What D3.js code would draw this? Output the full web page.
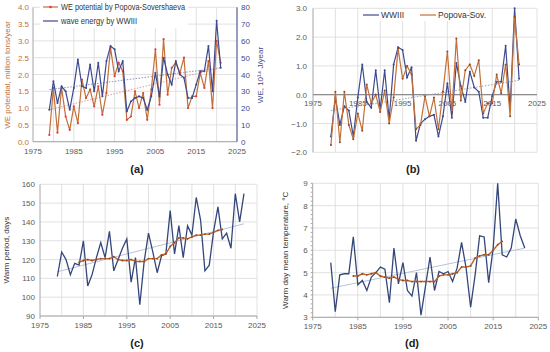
<!DOCTYPE html>
<html>
<head>
<meta charset="utf-8">
<script src="https://cdn.jsdelivr.net/npm/d3@7"></script>
<style>
  body { margin: 0; background: #fff; }
  svg text { font-family: "Liberation Sans", "Open Sans", sans-serif; }
</style>
</head>
<body>
<svg id="chart" width="550" height="352"></svg>
<script>
// ---- data ----
var yearsA = d3.range(1979, 2022);
var popovaA = [0.2, 1.6, 0.27, 1.6, 0.75, 0.35, 1.05, 0.55, 1.85, 1.3, 1.55, 1.05, 1.65, 0.8, 1.45, 2.8, 1.95, 2.35, 2.1, 0.65,
  0.75, 1.5, 1.0, 1.45, 0.65, 1.55, 2.75, 1.1, 3.05, 1.4, 2.2, 2.35, 2.05, 2.5, 1.0, 1.35, 1.35, 2.05, 1.6, 2.4, 1.0, 3.0, 2.35];
var wwiiiA = [19, 36, 23, 33, 30, 19, 32, 49, 33, 32, 46, 30, 47, 27, 48, 57, 55, 42, 48, 18,
  24, 26, 27, 26, 19, 27, 41, 27, 50, 40, 34, 48, 40, 38, 26, 26, 34, 42, 42, 57, 30, 72, 44];
var trendPopovaA = [0.95, 2.2];   // at 1979 and 2021
var trendWwiiiA = [31, 44];

var wwiiiB = [-1.45, -0.1, -1.05, -0.4, -0.55, -1.45, -0.1, 1.05, -0.25, -0.45, 0.85, -0.5, 0.85, -0.85, 1.05, 1.65, 1.55, 0.6, 0.95, -1.6,
  -1.0, -0.85, -0.75, -0.7, -1.45, -0.75, 0.4, -0.8, 1.1, 0.3, -0.25, 0.8, 0.25, 0.1, -0.8, -0.8, -0.05, 0.45, 0.45, 1.7, -0.5, 3.0, 0.55];
var popovaB = [-1.75, 0.1, -1.65, 0.1, -1.05, -1.55, -0.65, -1.25, 0.35, -0.3, 0.0, -0.6, 0.15, -1.0, -0.1, 1.6, 0.55, 1.0, 0.7, -1.2,
  -1.05, -0.05, -0.75, -0.1, -1.2, 0.1, 1.5, -0.6, 1.95, -0.2, 0.85, 1.05, 0.65, 1.2, -0.65, -0.3, -0.3, 0.7, 0.05, 1.05, -0.75, 2.7, 1.05];
var trendB = [-0.55, 0.5];

var yearsCD = d3.range(1979, 2023);
var warmDays = [111, 124, 120, 112, 118, 117, 130, 106, 112, 121, 129, 121, 135, 114, 120, 126, 131, 108, 121, 96,
  119, 134, 124, 113, 122, 123, 146, 123, 138, 121, 138, 133, 153, 141, 114, 117, 135, 148, 131, 134, 126, 155, 140, 155];
var yearsMA = d3.range(1984, 2018);
var warmDaysMA = [118.5, 119.5, 120, 119.5, 120, 120.5, 120.5, 120.5, 121.5, 120, 119.5, 119.5, 120, 119, 119, 119, 120.5, 120.5,
  120.5, 122.5, 123, 127, 129, 131.5, 131.5, 131, 132, 133, 133, 133.5, 133.5, 134.5, 135.5, 136];
var trendC = [113.5, 139];  // at 1979 and 2022

var warmTemp = [5.45, 3.25, 4.9, 4.95, 4.95, 6.6, 4.45, 4.65, 4.2, 4.8, 5.0, 5.25, 5.15, 3.65, 6.1, 4.5, 5.45, 4.2, 3.95, 5.0,
  3.1, 4.4, 5.7, 4.2, 5.05, 4.95, 5.05, 4.6, 5.2, 6.35, 5.2, 3.45, 4.9, 6.65, 6.6, 4.55, 6.1, 9.0, 5.8, 5.7, 6.1, 7.4, 6.65, 6.1];
var warmTempMA = [4.85, 4.85, 4.95, 4.9, 4.95, 5.0, 4.85, 4.8, 4.75, 4.8, 4.7, 4.65, 4.65, 4.6, 4.6, 4.6, 4.6, 4.6,
  4.6, 4.85, 4.9, 4.9, 4.95, 5.0, 5.25, 5.25, 5.3, 5.65, 5.75, 5.8, 5.8, 6.0, 6.25, 6.4];
var trendD = [4.3, 6.1];

var xTicks = [1975, 1985, 1995, 2005, 2015, 2025];

// ---- colours ----
var blue = "#3d4a8f", orange = "#c2703a", red = "#e8383d", grid = "#d9d9d9", axisText = "#595959";
var navy = "#34477a", maColor = "#c0622b", trendColor = "#b7c3d9";
var fs = 8;

var svg = d3.select("#chart");

function makeLine(x, y, xs) {
  return d3.line().x(function (d, i) { return x(xs[i]); }).y(function (d) { return y(d); });
}

function gridLines(g, x, y, xmin, xmax, ymin, ymax, xstep, ystep) {
  d3.range(ymin, ymax + ystep / 2, ystep).forEach(function (v) {
    g.append("line").attr("x1", x(xmin)).attr("x2", x(xmax)).attr("y1", y(v)).attr("y2", y(v))
      .attr("stroke", grid).attr("stroke-width", 0.8);
  });
  d3.range(xmin + xstep, xmax + 1, xstep).forEach(function (v) {
    g.append("line").attr("x1", x(v)).attr("x2", x(v)).attr("y1", y(ymin)).attr("y2", y(ymax))
      .attr("stroke", grid).attr("stroke-width", 0.8);
  });
}

function xLabels(g, x, yPos) {
  xTicks.forEach(function (t) {
    g.append("text").attr("x", x(t)).attr("y", yPos).attr("text-anchor", "middle")
      .attr("font-size", fs).attr("fill", axisText).text(t);
  });
}

function yLabels(g, y, vals, xPos, fmt, color, anchor) {
  vals.forEach(function (v) {
    g.append("text").attr("x", xPos).attr("y", y(v) + 3).attr("text-anchor", anchor || "end")
      .attr("font-size", fs).attr("fill", color || axisText).text(fmt(v));
  });
}

function caption(x, y, txt) {
  svg.append("text").attr("x", x).attr("y", y).attr("text-anchor", "middle")
    .attr("font-family", "Liberation Serif, serif").attr("font-weight", "bold")
    .attr("font-size", 11).attr("fill", "#222").text(txt);
}

// ================= panel (a) =================
(function () {
  var g = svg.append("g");
  var x = d3.scaleLinear().domain([1975, 2025]).range([33, 237]);
  var yL = d3.scaleLinear().domain([0, 4]).range([141.7, 7.3]);
  var yR = d3.scaleLinear().domain([0, 80]).range([141.7, 7.3]);

  gridLines(g, x, yL, 1975, 2025, 0, 4, 5, 0.5);
  g.append("line").attr("x1", x(1975)).attr("x2", x(2025)).attr("y1", yL(0)).attr("y2", yL(0)).attr("stroke", "#a6a6a6");
  g.append("line").attr("x1", x(1975)).attr("x2", x(1975)).attr("y1", yL(0)).attr("y2", yL(4)).attr("stroke", "#a6a6a6");
  g.append("line").attr("x1", x(2025)).attr("x2", x(2025)).attr("y1", yL(0)).attr("y2", yL(4)).attr("stroke", blue);

  yLabels(g, yL, d3.range(0, 4.01, 0.5), 29, d3.format(".1f"), orange);
  yLabels(g, yR, d3.range(0, 81, 10), 241, d3.format("d"), blue, "start");
  xLabels(g, x, 153.5);

  // trends
  g.append("line").attr("x1", x(1979)).attr("x2", x(2021)).attr("y1", yR(trendWwiiiA[0])).attr("y2", yR(trendWwiiiA[1]))
    .attr("stroke", "#8a97b8").attr("stroke-dasharray", "1.5,1.5").attr("stroke-width", 1);
  g.append("line").attr("x1", x(1979)).attr("x2", x(2021)).attr("y1", yL(trendPopovaA[0])).attr("y2", yL(trendPopovaA[1]))
    .attr("stroke", "#e59a9a").attr("stroke-dasharray", "1.5,1.5").attr("stroke-width", 1);

  g.append("path").datum(popovaA).attr("d", makeLine(x, yL, yearsA))
    .attr("fill", "none").attr("stroke", orange).attr("stroke-width", 1.2);
  g.selectAll(".pa").data(popovaA).enter().append("circle")
    .attr("cx", function (d, i) { return x(yearsA[i]); }).attr("cy", function (d) { return yL(d); })
    .attr("r", 1.1).attr("fill", red);
  g.append("path").datum(wwiiiA).attr("d", makeLine(x, yR, yearsA))
    .attr("fill", "none").attr("stroke", blue).attr("stroke-width", 1.2);
  g.selectAll(".wa").data(wwiiiA).enter().append("circle")
    .attr("cx", function (d, i) { return x(yearsA[i]); }).attr("cy", function (d) { return yR(d); })
    .attr("r", 1).attr("fill", blue);

  // legend
  g.append("rect").attr("x", 40).attr("y", 1).attr("width", 148).attr("height", 27).attr("fill", "#fff");
  g.append("line").attr("x1", 43).attr("x2", 58).attr("y1", 7).attr("y2", 7).attr("stroke", orange).attr("stroke-width", 1.2);
  g.append("circle").attr("cx", 50.5).attr("cy", 7).attr("r", 1.3).attr("fill", red);
  g.append("text").attr("x", 61).attr("y", 10).attr("font-size", 8.5).attr("fill", "#333")
    .attr("textLength", 124).attr("lengthAdjust", "spacingAndGlyphs").text("WE potential by Popova-Sovershaeva");
  g.append("line").attr("x1", 43).attr("x2", 58).attr("y1", 21).attr("y2", 21).attr("stroke", blue).attr("stroke-width", 1.2);
  g.append("text").attr("x", 61).attr("y", 24).attr("font-size", 8.5).attr("fill", "#333")
    .attr("textLength", 76).attr("lengthAdjust", "spacingAndGlyphs").text("wave energy by WWIII");

  g.append("text").attr("transform", "translate(10,75) rotate(-90)").attr("text-anchor", "middle")
    .attr("font-size", fs).attr("fill", orange).text("WE potential, million tons/year");
  g.append("text").attr("transform", "translate(263,75) rotate(-90)").attr("text-anchor", "middle")
    .attr("font-size", fs).attr("fill", blue).text("WE, 10¹⁴ J/year");
  caption(137, 173, "(a)");
})();

// ================= panel (b) =================
(function () {
  var g = svg.append("g");
  var x = d3.scaleLinear().domain([1975, 2025]).range([313, 537]);
  var y = d3.scaleLinear().domain([-2, 3]).range([152.3, 8.3]);

  gridLines(g, x, y, 1975, 2025, -2, 3, 5, 1);
  g.append("line").attr("x1", x(1975)).attr("x2", x(1975)).attr("y1", y(-2)).attr("y2", y(3)).attr("stroke", "#a6a6a6");
  g.append("line").attr("x1", x(1975)).attr("x2", x(2025)).attr("y1", y(0)).attr("y2", y(0)).attr("stroke", "#8c8c8c").attr("stroke-width", 1.2);
  yLabels(g, y, d3.range(-2, 3.01, 1), 307, d3.format(".1f"));
  xLabels(g, x, y(0) + 11);

  g.append("line").attr("x1", x(1979)).attr("x2", x(2021)).attr("y1", y(trendB[0])).attr("y2", y(trendB[1]))
    .attr("stroke", "#9aa3b8").attr("stroke-dasharray", "1.5,1.5").attr("stroke-width", 1);

  g.append("path").datum(wwiiiB).attr("d", makeLine(x, y, yearsA))
    .attr("fill", "none").attr("stroke", blue).attr("stroke-width", 1.2);
  g.selectAll(".wb").data(wwiiiB).enter().append("circle")
    .attr("cx", function (d, i) { return x(yearsA[i]); }).attr("cy", function (d) { return y(d); })
    .attr("r", 1).attr("fill", blue);
  g.append("path").datum(popovaB).attr("d", makeLine(x, y, yearsA))
    .attr("fill", "none").attr("stroke", orange).attr("stroke-width", 1.2);
  g.selectAll(".pb").data(popovaB).enter().append("circle")
    .attr("cx", function (d, i) { return x(yearsA[i]); }).attr("cy", function (d) { return y(d); })
    .attr("r", 1).attr("fill", "#8a4a22");

  g.append("rect").attr("x", 361).attr("y", 9).attr("width", 105).attr("height", 12).attr("fill", "#fff");
  g.append("line").attr("x1", 363).attr("x2", 379).attr("y1", 15).attr("y2", 15).attr("stroke", blue).attr("stroke-width", 1.2);
  g.append("text").attr("x", 381).attr("y", 18).attr("font-size", 8.5).attr("fill", "#333").text("WWIII");
  g.append("line").attr("x1", 420).attr("x2", 436).attr("y1", 15).attr("y2", 15).attr("stroke", orange).attr("stroke-width", 1.2);
  g.append("text").attr("x", 438).attr("y", 18).attr("font-size", 8.5).attr("fill", "#333").text("Popova-Sov.");
  caption(413, 173, "(b)");
})();

// ================= panels (c) and (d) =================
function lowerPanel(opts) {
  var g = svg.append("g");
  var x = d3.scaleLinear().domain([1975, 2025]).range(opts.xr);
  var y = d3.scaleLinear().domain(opts.yd).range(opts.yr);

  gridLines(g, x, y, 1975, 2025, opts.yd[0], opts.yd[1], 5, opts.ystep);
  g.append("line").attr("x1", x(1975)).attr("x2", x(2025)).attr("y1", y(opts.yd[0])).attr("y2", y(opts.yd[0])).attr("stroke", "#a6a6a6");
  g.append("line").attr("x1", x(1975)).attr("x2", x(1975)).attr("y1", y(opts.yd[0])).attr("y2", y(opts.yd[1])).attr("stroke", "#a6a6a6");
  if (opts.minor) {
    d3.range(opts.yd[0], opts.yd[1] + 0.001, opts.minor).forEach(function (v) {
      g.append("line").attr("x1", x(1975) - 2).attr("x2", x(1975)).attr("y1", y(v)).attr("y2", y(v)).attr("stroke", "#a6a6a6");
    });
  }
  xTicks.forEach(function (t) {
    g.append("line").attr("x1", x(t)).attr("x2", x(t)).attr("y1", y(opts.yd[0])).attr("y2", y(opts.yd[0]) + 3).attr("stroke", "#a6a6a6");
  });
  yLabels(g, y, d3.range(opts.yd[0], opts.yd[1] + 0.001, opts.ystep), x(1975) - 5, d3.format("d"));
  xLabels(g, x, y(opts.yd[0]) + 12);

  g.append("line").attr("x1", x(1979)).attr("x2", x(2022)).attr("y1", y(opts.trend[0])).attr("y2", y(opts.trend[1]))
    .attr("stroke", trendColor).attr("stroke-width", 1);
  g.append("path").datum(opts.values).attr("d", makeLine(x, y, yearsCD))
    .attr("fill", "none").attr("stroke", navy).attr("stroke-width", 1.3);
  g.append("path").datum(opts.ma).attr("d", makeLine(x, y, yearsMA))
    .attr("fill", "none").attr("stroke", maColor).attr("stroke-width", 1.4);
  g.selectAll(".ma").data(opts.ma).enter().append("circle")
    .attr("cx", function (d, i) { return x(yearsMA[i]); }).attr("cy", function (d) { return y(d); })
    .attr("r", 0.9).attr("fill", "#8c4a22");

  g.append("text").attr("transform", "translate(" + opts.titleX + "," + ((opts.yr[0] + opts.yr[1]) / 2) + ") rotate(-90)")
    .attr("text-anchor", "middle").attr("font-size", fs).attr("fill", "#333").text(opts.title);
  caption(opts.capX, 347, opts.cap);
}

lowerPanel({ xr: [40, 257], yd: [90, 160], yr: [316, 184.3], ystep: 10, values: warmDays, ma: warmDaysMA,
  trend: trendC, title: "Warm period, days", titleX: 9, cap: "(c)", capX: 137 });
lowerPanel({ xr: [312.7, 538.3], yd: [3, 9], yr: [317.3, 183.3], ystep: 1, minor: 0.2, values: warmTemp, ma: warmTempMA,
  trend: trendD, title: "Warm day mean temperature, °C", titleX: 288, cap: "(d)", capX: 412 });
</script>
</body>
</html>
